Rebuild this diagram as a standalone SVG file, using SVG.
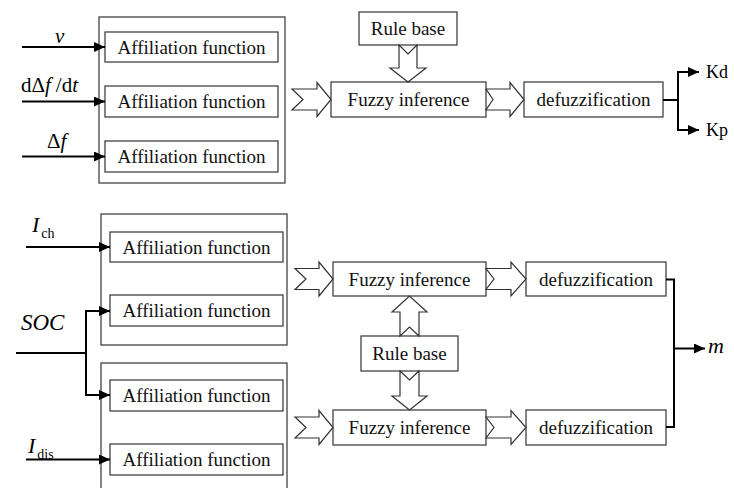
<svg xmlns="http://www.w3.org/2000/svg" width="734" height="488" viewBox="0 0 734 488" font-family="'Liberation Serif', 'Times New Roman', 'DejaVu Serif', serif">
<defs>
<marker id="ah" markerWidth="12" markerHeight="10" refX="11" refY="5" orient="auto" markerUnits="userSpaceOnUse">
<path d="M0,0 L11,5 L0,10 Z" fill="#000"/>
</marker>
<style>
text{font-family:'Liberation Serif','Times New Roman','DejaVu Serif',serif}
.box{fill:#fff;stroke:#333;stroke-width:1.2}
.outer{fill:none;stroke:#333;stroke-width:1.2}
.hol{fill:#fff;stroke:#333;stroke-width:1.2;stroke-linejoin:miter}
.t{font-size:19px;fill:#111;text-anchor:middle}
.lab{font-size:21px;fill:#000}
.it{font-style:italic}
.wire{fill:none;stroke:#000;stroke-width:2}
</style>
</defs>
<rect width="734" height="488" fill="#fff"/>

<!-- Top group -->
<g id="inputs-top">
<rect class="outer" x="99" y="17" width="186" height="166"/>
</g>
<g id="af1"><rect class="box" x="105" y="32" width="173" height="30"/><text class="t" x="191.5" y="53.5">Affiliation function</text></g>
<g id="af2"><rect class="box" x="105" y="86" width="173" height="31"/><text class="t" x="191.5" y="108">Affiliation function</text></g>
<g id="af3"><rect class="box" x="105" y="141" width="173" height="31"/><text class="t" x="191.5" y="163">Affiliation function</text></g>
<g id="rb1"><rect class="box" x="359" y="12" width="98" height="33"/><text class="t" x="408" y="35">Rule base</text></g>
<g id="fi1"><rect class="box" x="331" y="82" width="155" height="35"/><text class="t" x="408.5" y="106">Fuzzy inference</text></g>
<g id="df1"><rect class="box" x="524" y="82" width="139" height="35"/><text class="t" x="593.5" y="106">defuzzification</text></g>

<!-- Bottom groups -->
<g id="inputs-ch"><rect class="outer" x="101" y="214" width="186" height="131"/></g>
<g id="inputs-dis"><rect class="outer" x="101" y="363" width="186" height="132"/></g>
<g id="af4"><rect class="box" x="110" y="232" width="173" height="30"/><text class="t" x="196.5" y="253.5">Affiliation function</text></g>
<g id="af5"><rect class="box" x="110" y="295" width="173" height="31"/><text class="t" x="196.5" y="317">Affiliation function</text></g>
<g id="af6"><rect class="box" x="110" y="380" width="173" height="31"/><text class="t" x="196.5" y="402">Affiliation function</text></g>
<g id="af7"><rect class="box" x="110" y="444" width="173" height="31"/><text class="t" x="196.5" y="466">Affiliation function</text></g>
<g id="fi2"><rect class="box" x="333" y="262" width="153" height="34"/><text class="t" x="409.5" y="285.5">Fuzzy inference</text></g>
<g id="df2"><rect class="box" x="526" y="262" width="140" height="34"/><text class="t" x="596" y="285.5">defuzzification</text></g>
<g id="rb2"><rect class="box" x="361" y="336" width="97" height="35"/><text class="t" x="409.5" y="360">Rule base</text></g>
<g id="fi3"><rect class="box" x="333" y="410" width="153" height="35"/><text class="t" x="409.5" y="434">Fuzzy inference</text></g>
<g id="df3"><rect class="box" x="526" y="410" width="140" height="35"/><text class="t" x="596" y="434">defuzzification</text></g>

<!-- Connectors -->
<g id="connectors">
<line class="wire" x1="22" y1="47" x2="105" y2="47" marker-end="url(#ah)"/>
<line class="wire" x1="22" y1="101.5" x2="105" y2="101.5" marker-end="url(#ah)"/>
<line class="wire" x1="22" y1="156.5" x2="105" y2="156.5" marker-end="url(#ah)"/>
<polygon class="hol" points="292,89 317,89 317,82.5 331,99.5 317,116.5 317,110 292,110 303,99.5"/>
<polygon class="hol" points="486,89 510,89 510,82.5 524,99.5 510,116.5 510,110 486,110 493,99.5"/>
<polygon class="hol" points="399,45 408,54 417,45 417,68 426,68 408,82 390,68 399,68"/>
<polyline class="wire" points="663,100 678,100"/>
<polyline class="wire" points="699,72 678,72 678,130 699,130" marker-end="url(#ah)"/>
<line class="wire" x1="678" y1="72" x2="699" y2="72" marker-end="url(#ah)"/>
<line class="wire" x1="26" y1="247" x2="110" y2="247" marker-end="url(#ah)"/>
<polyline class="wire" points="16,353 86,353"/>
<polyline class="wire" points="110,311 86,311 86,395 110,395" marker-end="url(#ah)"/>
<line class="wire" x1="86" y1="311" x2="110" y2="311" marker-end="url(#ah)"/>
<line class="wire" x1="26" y1="459.5" x2="110" y2="459.5" marker-end="url(#ah)"/>
<polygon class="hol" points="295,268.5 319,268.5 319,262 333,279 319,296 319,289.5 295,289.5 306,279"/>
<polygon class="hol" points="486,268.5 511,268.5 511,262 526,279 511,296 511,289.5 486,289.5 494,279"/>
<polygon class="hol" points="295,417 319,417 319,410.5 333,427.5 319,444.5 319,438 295,438 306,427.5"/>
<polygon class="hol" points="486,417 511,417 511,410.5 526,427.5 511,444.5 511,438 486,438 494,427.5"/>
<polygon class="hol" points="400,336 409.5,327 419,336 419,312 427,312 409.5,296 392,312 400,312"/>
<polygon class="hol" points="400,371 409.5,380 419,371 419,396 427,396 409.5,410 392,396 400,396"/>
<polyline class="wire" points="666,279.5 674,279.5 674,427 666,427"/>
<line class="wire" x1="674" y1="348.5" x2="705" y2="348.5" marker-end="url(#ah)"/>
</g>

<!-- Labels -->
<g id="labels">
<text class="lab it" x="55" y="43">v</text>
<text class="lab" x="21" y="92">dΔ<tspan class="it">f</tspan><tspan dx="5">/d</tspan><tspan class="it">t</tspan></text>
<text class="lab" x="47" y="148">Δ<tspan class="it">f</tspan></text>
<text class="lab" x="706" y="78" style="font-size:18px">Kd</text>
<text class="lab" x="706" y="136" style="font-size:18px">Kp</text>
<text class="lab" x="32" y="232" style="font-size:22px"><tspan class="it">I</tspan><tspan dx="2" dy="6" style="font-size:14px">ch</tspan></text>
<text class="lab it" x="21" y="330" style="font-size:23px">SOC</text>
<text class="lab" x="28" y="453" style="font-size:22px"><tspan class="it">I</tspan><tspan dx="2" dy="6" style="font-size:14px">dis</tspan></text>
<text class="lab it" x="708" y="353" style="font-size:22px">m</text>
</g>
</svg>
